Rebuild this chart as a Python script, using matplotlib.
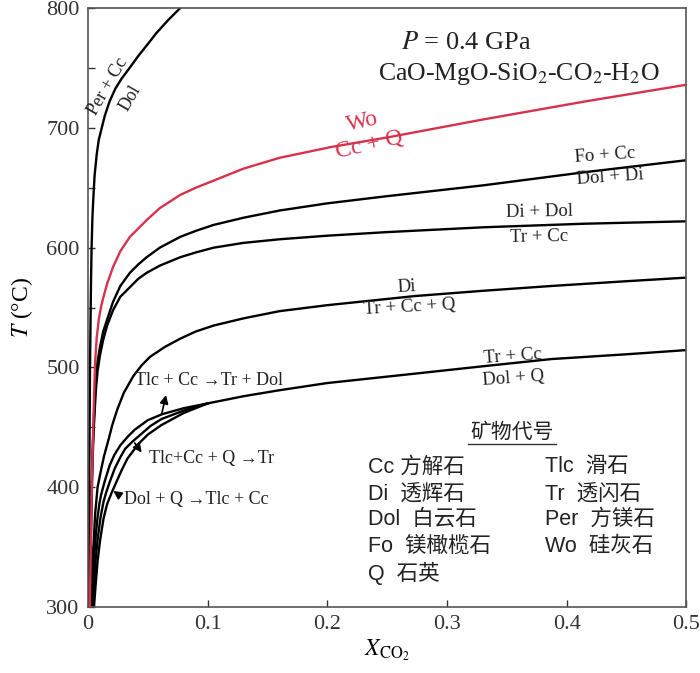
import matplotlib
matplotlib.use("Agg")
import matplotlib.pyplot as plt

plt.rcParams['font.family'] = ['Liberation Serif', 'DejaVu Serif']
plt.rcParams['mathtext.fontset'] = 'stix'

# curves: (X_CO2, T in degC)
per_x = [0.0005, 0.001, 0.0017, 0.0025, 0.003, 0.0037, 0.0044, 0.0055, 0.0073, 0.009,
         0.011, 0.014, 0.018, 0.023, 0.028, 0.034, 0.042, 0.05, 0.057, 0.067, 0.077]
per_t = [300, 400, 500, 570, 600, 625, 640, 660, 678, 690,
         698, 710, 722, 733, 741, 749, 760, 770, 779, 790, 800]

wo_x = [0.0015, 0.002, 0.003, 0.004, 0.005, 0.006, 0.0073, 0.009, 0.011, 0.0127, 0.016,
        0.021, 0.027, 0.035, 0.042, 0.049, 0.06, 0.077, 0.09, 0.105, 0.13, 0.16, 0.203,
        0.25, 0.33, 0.415, 0.5]
wo_t = [300, 330, 390, 435, 475, 505, 525, 540, 551, 558, 570,
        584, 597, 609, 616, 623, 633, 644, 650, 656, 666, 675, 684,
        692, 707, 722, 736]

fo_x = [0.0015, 0.002, 0.003, 0.004, 0.005, 0.0065, 0.008, 0.01, 0.0127, 0.016, 0.021,
        0.027, 0.035, 0.042, 0.049, 0.06, 0.077, 0.09, 0.105, 0.13, 0.16, 0.2, 0.25,
        0.33, 0.415, 0.5]
fo_t = [300, 340, 400, 435, 460, 488, 505, 517, 530, 540, 555,
        568, 579, 586, 592, 600, 609, 614, 619, 625, 631, 637, 643,
        652, 663, 673]

didol_x = [0.0015, 0.002, 0.003, 0.004, 0.005, 0.0065, 0.008, 0.01, 0.0127, 0.016, 0.021,
           0.027, 0.035, 0.042, 0.049, 0.06, 0.077, 0.09, 0.105, 0.13, 0.16, 0.2, 0.25,
           0.33, 0.415, 0.5]
didol_t = [300, 335, 390, 428, 452, 480, 497, 510, 523, 535, 548,
           559, 567, 574, 579, 585, 592, 596, 600, 604, 607, 610, 613,
           617, 620, 622]

di_x = [0.0025, 0.0035, 0.0045, 0.006, 0.008, 0.0106, 0.0134, 0.0175, 0.0203, 0.0245,
        0.030, 0.038, 0.045, 0.052, 0.064, 0.077, 0.09, 0.105, 0.13, 0.16, 0.2, 0.273,
        0.33, 0.387, 0.45, 0.5]
di_t = [300, 330, 350, 378, 400, 413, 426, 441, 452, 465,
        479, 493, 502, 509, 517, 524, 530, 535, 541, 547, 552, 559.6,
        564, 568, 572, 575]

trcc_x = [0.003, 0.004, 0.005, 0.0065, 0.008, 0.0095, 0.011, 0.014, 0.018, 0.022, 0.027,
          0.033, 0.039, 0.05, 0.062, 0.08, 0.1, 0.13, 0.16, 0.2, 0.27, 0.33, 0.387, 0.45, 0.5]
trcc_t = [300, 322, 340, 360, 375, 386, 394, 405, 418, 427, 435,
          442, 448, 456, 461, 466, 470, 476, 481, 487, 494.5, 501, 507, 511, 514.5]

tlcq_x = [0.004, 0.005, 0.0065, 0.008, 0.0105, 0.013, 0.015, 0.018, 0.0225, 0.027, 0.031,
          0.037, 0.044, 0.052, 0.0615, 0.08, 0.1]
tlcq_t = [300, 318, 340, 356, 375, 388, 395, 404, 416, 425, 432,
          438, 444, 451, 457, 464, 470]

dolq_x = [0.005, 0.0065, 0.008, 0.01, 0.013, 0.016, 0.02, 0.024, 0.028, 0.033, 0.042,
          0.05, 0.0615, 0.08, 0.1]
dolq_t = [300, 320, 338, 355, 374, 386, 396, 405, 414, 424, 436,
          444, 452, 462, 470]

legend_left = ["Cc 方解石", "Di  透辉石", "Dol  白云石", "Fo  镁橄榄石", "Q  石英"]
legend_right = ["Tlc  滑石", "Tr  透闪石", "Per  方镁石", "Wo  硅灰石"]

red = '#d8314c'
lw = 1.7

fig = plt.figure(figsize=(7.0, 6.73), dpi=100)
ax = fig.add_axes([0.1257, 0.098, 0.855, 0.890])

for xs, ts in [(per_x, per_t), (fo_x, fo_t), (didol_x, didol_t), (di_x, di_t),
               (trcc_x, trcc_t), (tlcq_x, tlcq_t), (dolq_x, dolq_t)]:
    ax.plot(xs, ts, color='black', lw=lw, solid_joinstyle='round')
ax.plot(wo_x, wo_t, color=red, lw=lw, zorder=3, solid_joinstyle='round')

ax.set_xlim(0, 0.5)
ax.set_ylim(300, 800)
ax.set_xticks([0, 0.1, 0.2, 0.3, 0.4, 0.5])
ax.set_xticklabels(['0', '0.1', '0.2', '0.3', '0.4', '0.5'])
ax.set_yticks(range(300, 801, 50))
ax.set_yticklabels([str(v) if v % 100 == 0 else '' for v in range(300, 801, 50)])
ax.tick_params(direction='in', length=5, width=1, labelsize=16, colors='#333333',
               pad=6)
for s in ax.spines.values():
    s.set_color('#555555')
    s.set_linewidth(1.2)

ax.set_ylabel(r'$T$ (°C)', fontsize=17, labelpad=8)
ax.set_xlabel(r'$X_{\rm CO_2}$', fontsize=17, labelpad=2)

tc = '#222222'
ax.text(0.316, 771, r'$P$ = 0.4 GPa', fontsize=19, ha='center', va='center', color=tc)
ax.text(0.360, 745, r'CaO-MgO-SiO$_2$-CO$_2$-H$_2$O', fontsize=18.5, ha='center',
        va='center', color=tc)

ax.text(0.0170, 735, 'Per + Cc', fontsize=13, rotation=60, ha='center', va='center', color=tc)
ax.text(0.035, 725, 'Dol', fontsize=13, rotation=60, ha='center', va='center', color=tc)

ax.text(0.229, 705, 'Wo', fontsize=17, rotation=13, ha='center', va='center', color=red)
ax.text(0.235, 686, 'Cc + Q', fontsize=17, rotation=13, ha='center', va='center', color=red)

fs = 13.5
ax.text(0.432, 677, 'Fo + Cc', fontsize=fs, rotation=4, ha='center', va='center', color=tc)
ax.text(0.436, 659, 'Dol + Di', fontsize=fs, rotation=4, ha='center', va='center', color=tc)
ax.text(0.377, 630, 'Di + Dol', fontsize=fs, rotation=1, ha='center', va='center', color=tc)
ax.text(0.377, 609, 'Tr + Cc', fontsize=fs, rotation=1, ha='center', va='center', color=tc)
ax.text(0.266, 567, 'Di', fontsize=fs, rotation=3, ha='center', va='center', color=tc)
ax.text(0.269, 550, 'Tr + Cc + Q', fontsize=fs, rotation=3, ha='center', va='center', color=tc)
ax.text(0.355, 509.5, 'Tr + Cc', fontsize=fs, rotation=4, ha='center', va='center', color=tc)
ax.text(0.355, 491, 'Dol + Q', fontsize=fs, rotation=4, ha='center', va='center', color=tc)

fr = 13
ax.text(0.039, 489.5, 'Tlc + Cc →Tr + Dol', fontsize=fr, ha='left', va='center', color=tc)
ax.text(0.051, 424.4, 'Tlc+Cc + Q →Tr', fontsize=fr, ha='left', va='center', color=tc)
ax.text(0.030, 390, 'Dol + Q →Tlc + Cc', fontsize=fr, ha='left', va='center', color=tc)

arrow = dict(arrowstyle='-|>,head_length=0.5,head_width=0.25', color='black', lw=1.2,
             shrinkA=0, shrinkB=0)
ax.annotate('', xy=(0.0652, 477), xytext=(0.0615, 461), arrowprops=arrow)
ax.annotate('', xy=(0.0448, 429), xytext=(0.039, 437), arrowprops=arrow)
ax.annotate('', xy=(0.0211, 397), xytext=(0.026, 393.5), arrowprops=arrow)

# mineral abbreviations
cjk = ['Liberation Sans', 'Noto Sans CJK SC', 'DejaVu Sans']
ax.text(0.354, 446, '矿物代号', fontsize=15, ha='center', va='center',
        family=cjk, color=tc)
ax.plot([0.3172, 0.391], [436, 436], color='#333333', lw=1)
rows_t = [417, 394.6, 372.9, 350.3, 327.8]
for lab, yy in zip(legend_left, rows_t):
    ax.text(0.234, yy, lab, fontsize=15.5, ha='left', va='center', family=cjk, color=tc)
for lab, yy in zip(legend_right, rows_t):
    ax.text(0.382, yy, lab, fontsize=15.5, ha='left', va='center', family=cjk, color=tc)

fig.savefig('out.png', dpi=100)
